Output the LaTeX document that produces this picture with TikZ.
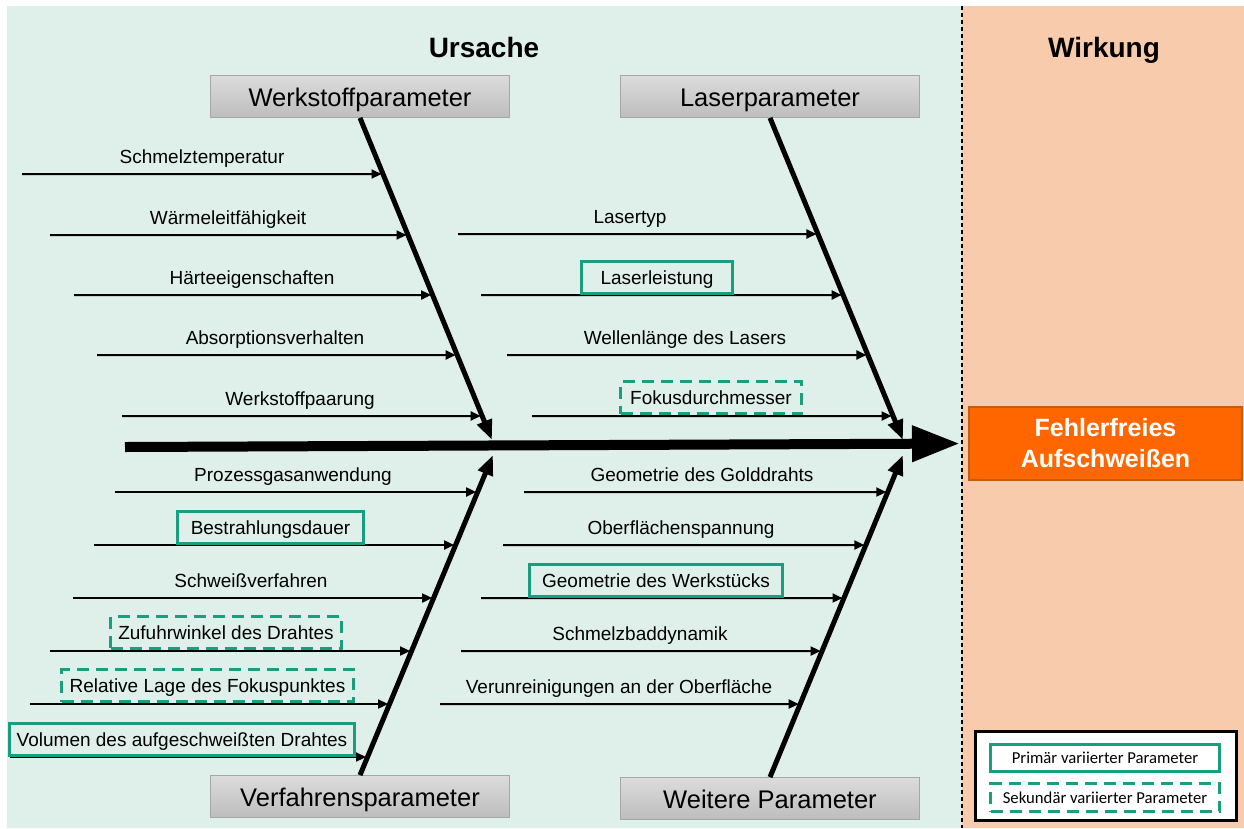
\documentclass[tikz,border=0pt]{standalone}
\usepackage{fontspec}
\setmainfont{Liberation Sans}
\newfontfamily\legendfont{Carlito}
\usetikzlibrary{arrows.meta}

\definecolor{causebg}{HTML}{DFF0EB}
\definecolor{effectbg}{HTML}{F8CBAD}
\definecolor{effectfill}{HTML}{FF6600}
\definecolor{effectdraw}{HTML}{C55A11}
\definecolor{paramgreen}{HTML}{1A9E80}
\definecolor{headtop}{HTML}{DCDCDC}
\definecolor{headbot}{HTML}{BDBDBD}

\begin{document}
\begin{tikzpicture}[x=1pt,y=-1pt,
                    headbox/.style={draw=black!35,line width=0.8pt,top color=headtop,bottom color=headbot,
                                    minimum width=299pt,minimum height=42pt,text height=20pt,text depth=0pt,
                                    font=\fontsize{25.5}{28}\selectfont},
                    title/.style={anchor=base,font=\fontsize{28}{32}\selectfont\bfseries},
                    spine/.style={line width=10pt,-{Triangle[length=48pt,width=34pt]},shorten >=8pt},
                    bone/.style={line width=5pt,-{Triangle[length=20pt,width=15pt]}},
                    branch/.style={line width=2pt,-{Triangle[length=10pt,width=9pt]},shorten >=1.5pt},
                    lbl/.style={font=\fontsize{19}{22}\selectfont,inner sep=0pt},
                    primbox/.style={lbl,draw=paramgreen,line width=3pt,minimum height=32pt,text height=17pt,text depth=4pt},
                    secbox/.style={primbox,dash pattern=on 12pt off 7pt},
                    legbox/.style={draw=paramgreen,line width=3pt,minimum width=229pt,text height=11pt,text depth=0pt,
                                   font=\legendfont\fontsize{16.7}{19}\selectfont}]

    \useasboundingbox (0,0) rectangle (1244,828);
    \fill[causebg] (7,6) rectangle (962,828);
    \fill[effectbg] (962,6) rectangle (1244,828);
    \draw[line width=1.5pt,dash pattern=on 4pt off 3pt] (962,6) -- (962,828);

    \node[title] (ursache) at (484,57) {Ursache};
    \node[title] (wirkung) at (1104,57) {Wirkung};

    \node[headbox] (wpar) at (360,96.5) {Werkstoffparameter};
    \node[headbox] (lpar) at (770,96.5) {Laserparameter};
    \node[headbox] (vpar) at (360,796.5) {Verfahrensparameter};
    \node[headbox] (wtpar) at (770,798.5) {Weitere Parameter};

    \node[draw=effectdraw,line width=2pt,fill=effectfill,text=white,minimum width=273pt,minimum height=73pt,
          align=center,font=\fontsize{25}{31}\selectfont\bfseries] (effekt) at (1105.5,443.5) {Fehlerfreies\\Aufschweißen};

    \coordinate (wptop) at (wpar.south);
    \coordinate (lptop) at (lpar.south);
    \coordinate (vptop) at (vpar.north);
    \coordinate (wttop) at (wtpar.north);
    \coordinate (wphub) at (492,440);
    \coordinate (lphub) at (903,440);
    \coordinate (vphub) at (493,455);
    \coordinate (wthub) at (903,455);
    \coordinate (tail) at (125,447);

    \foreach \y/\xs/\xl/\bn/\txt in {174/22/202/wp/Schmelztemperatur,
                                    235/50/228/wp/Wärmeleitfähigkeit,
                                    295/74/252/wp/Härteeigenschaften,
                                    355/97/275/wp/Absorptionsverhalten,
                                    416/122/300/wp/Werkstoffpaarung,
                                    234/458/630/lp/Lasertyp,
                                    355/507/685/lp/Wellenlänge des Lasers,
                                    492/115/293/vp/Prozessgasanwendung,
                                    598/73/251/vp/Schweißverfahren,
                                    492/524/702/wt/Geometrie des Golddrahts,
                                    545/503/681/wt/Oberflächenspannung,
                                    651/461/640/wt/Schmelzbaddynamik,
                                    704/440/619/wt/Verunreinigungen an der Oberfläche}{
        \coordinate (s\y\bn) at (\xs,\y);
        \coordinate (e\y\bn) at (intersection of \bn top--\bn hub and \xs,\y--1000,\y);
        \draw[branch] (s\y\bn) -- (e\y\bn);
        \node[lbl,anchor=base] (l\y\bn) at (\xl,\y-11) {\txt};
    }

    \foreach \y/\xs/\xl/\w/\bn/\txt in {295/481/657/151/lp/Laserleistung,
                                       545/94/270.5/186/vp/Bestrahlungsdauer,
                                       598/481/656/253/wt/Geometrie des Werkstücks,
                                       757/10/182/345/vp/Volumen des aufgeschweißten Drahtes}{
        \coordinate (s\y\bn) at (\xs,\y);
        \coordinate (e\y\bn) at (intersection of \bn top--\bn hub and \xs,\y--1000,\y);
        \draw[branch] (s\y\bn) -- (e\y\bn);
        \node[primbox,minimum width=\w pt] (l\y\bn) at (\xl,\y-17.5) {\txt};
    }

    \foreach \y/\xs/\xl/\w/\bn/\txt in {416/532/711/181/lp/Fokusdurchmesser,
                                       651/50/226/231/vp/Zufuhrwinkel des Drahtes,
                                       704/30/207.5/292/vp/Relative Lage des Fokuspunktes}{
        \coordinate (s\y\bn) at (\xs,\y);
        \coordinate (e\y\bn) at (intersection of \bn top--\bn hub and \xs,\y--1000,\y);
        \draw[branch] (s\y\bn) -- (e\y\bn);
        \node[secbox,minimum width=\w pt] (l\y\bn) at (\xl,\y-18.5) {\txt};
    }

    \draw[bone] (wptop) -- (wphub);
    \draw[bone] (lptop) -- (lphub);
    \draw[bone] (vptop) -- (vphub);
    \draw[bone] (wttop) -- (wthub);
    \draw[spine] (tail) -- (effekt.west);

    \node[draw,line width=3pt,fill=white,minimum width=261pt,minimum height=89pt] (legende) at (1106,776) {};
    \node[legbox,minimum height=27pt] (primaer) at (1105,758) {Primär variierter Parameter};
    \node[legbox,minimum height=28pt,dash pattern=on 12pt off 7pt] (sekundaer) at (1105,797.5) {Sekundär variierter Parameter};
\end{tikzpicture}
\end{document}
